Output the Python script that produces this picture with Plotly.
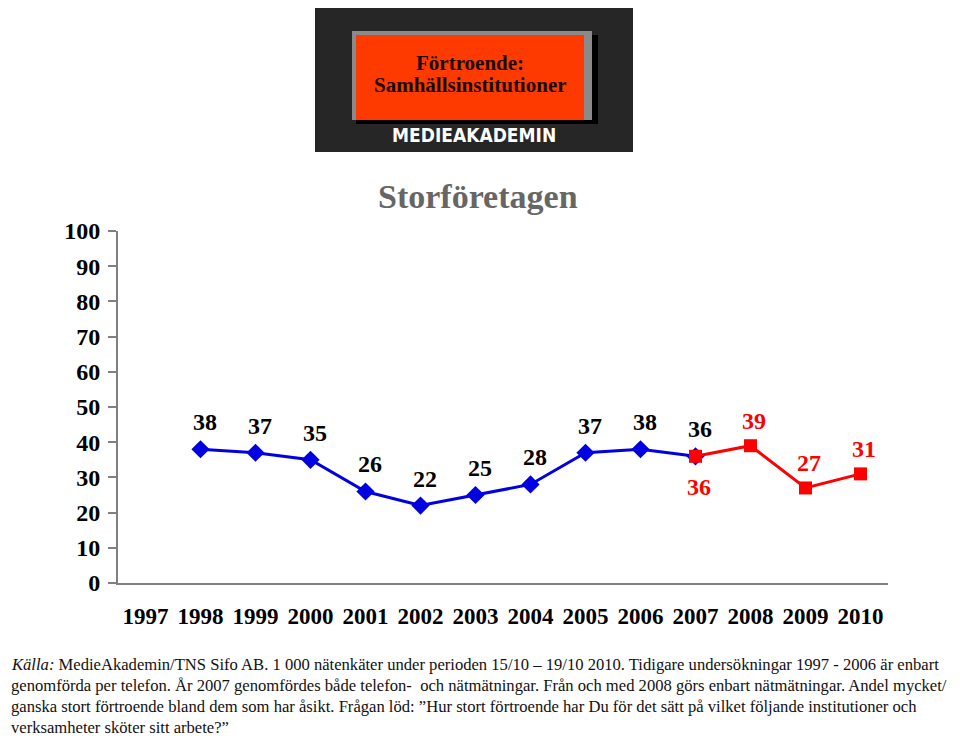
import plotly.graph_objects as go

# ---- data ----
years = [str(y) for y in range(1997, 2011)]
blue_years = ["1998", "1999", "2000", "2001", "2002", "2003", "2004", "2005", "2006", "2007"]
blue_values = [38, 37, 35, 26, 22, 25, 28, 37, 38, 36]
red_years = ["2007", "2008", "2009", "2010"]
red_values = [36, 39, 27, 31]
y_ticks = [0, 10, 20, 30, 40, 50, 60, 70, 80, 90, 100]

title_text = "Storföretagen"
logo_line1 = "Förtroende:"
logo_line2 = "Samhällsinstitutioner"
logo_brand = "MEDIEAKADEMIN"
footer_lines = [
    "<i>Källa:</i> MedieAkademin/TNS Sifo AB. 1 000 nätenkäter under perioden 15/10 – 19/10 2010. Tidigare undersökningar 1997 - 2006 är enbart",
    "genomförda per telefon. År 2007 genomfördes både telefon-  och nätmätningar. Från och med 2008 görs enbart nätmätningar. Andel mycket/",
    "ganska stort förtroende bland dem som har åsikt. Frågan löd: ”Hur stort förtroende har Du för det sätt på vilket följande institutioner och",
    "verksamheter sköter sitt arbete?”",
]

# ---- layout geometry (screen pixels; page body has an 8px margin) ----
OFF = 8
W, H = 960 - OFF, 752 - OFF
SL, SR, ST, SB = 118, 888, 231, 583          # plot area on screen
L, R, T, B = SL - OFF, SR - OFF, ST - OFF, SB - OFF
SERIF = "Liberation Serif, Times New Roman, serif"
BLUE = "#0000e0"
RED = "#ff0000"

def px(x):
    return (x - SL) / (SR - SL)

def py(y):
    return (SB - y) / (SB - ST)

xi = {y: i for i, y in enumerate(years)}

fig = go.Figure()
fig.add_trace(go.Scatter(
    x=[xi[y] for y in blue_years], y=blue_values, mode="lines+markers",
    line=dict(color=BLUE, width=3),
    marker=dict(symbol="diamond", size=14, color=BLUE),
    hoverinfo="skip", showlegend=False,
))
fig.add_trace(go.Scatter(
    x=[xi[y] for y in red_years], y=red_values, mode="lines+markers",
    line=dict(color=RED, width=3),
    marker=dict(symbol="square", size=13, color=RED),
    hoverinfo="skip", showlegend=False,
))

annotations = []
label_font = dict(family=SERIF, size=24, color="black")
for y, v in zip(blue_years, blue_values):
    annotations.append(dict(x=xi[y], y=v, xref="x", yref="y", text=f"<b>{v}</b>",
                            showarrow=False, yshift=27, xshift=4, font=label_font,
                            xanchor="center", yanchor="middle"))
for i, (y, v) in enumerate(zip(red_years, red_values)):
    shift = -31 if i == 0 else 25
    annotations.append(dict(x=xi[y], y=v, xref="x", yref="y", text=f"<b>{v}</b>",
                            showarrow=False, yshift=shift, xshift=3,
                            xanchor="center", yanchor="middle",
                            font=dict(family=SERIF, size=24, color=RED)))

def paper_text(x, y, text, font, xanchor="center"):
    annotations.append(dict(x=px(x), y=py(y), xref="paper", yref="paper", text=text,
                            showarrow=False, xanchor=xanchor, yanchor="middle", font=font))

# title
paper_text(478, 197, f"<b>{title_text}</b>", dict(family=SERIF, size=34, color="#666666"))

# logo texts
paper_text(470, 63, f"<b>{logo_line1}</b>", dict(family=SERIF, size=21, color="#1a0800"))
paper_text(470, 85, f"<b>{logo_line2}</b>", dict(family=SERIF, size=21, color="#1a0800"))
paper_text(474, 135, f"<b>{logo_brand}</b>",
           dict(family="DejaVu Sans Condensed, DejaVu Sans, Arial, sans-serif", size=19, color="white"))

# footer
footer_y = [664, 685, 706, 727]
for line, yy in zip(footer_lines, footer_y):
    paper_text(OFF + 1, yy, line, dict(family=SERIF, size=16.6, color="#111111"), xanchor="left")

def rect(x0, x1, y0, y1, color):
    return dict(type="rect", xref="paper", yref="paper", x0=px(x0), x1=px(x1), y0=py(y1), y1=py(y0),
                fillcolor=color, line=dict(width=0), layer="below")

shapes = [
    rect(315, 633, 0, 152, "#262626"),
    rect(356, 598, 35, 124, "#000000"),   # shadow right/bottom
    rect(352, 592, 31, 120, "#8a8a8a"),   # bevel top/left
    rect(356, 584, 35, 120, "#ff3a00"),
]

fig.update_layout(
    width=W, height=H,
    margin=dict(l=L, r=W - R, t=T, b=H - B, pad=0),
    paper_bgcolor="white", plot_bgcolor="white",
    annotations=annotations, shapes=shapes,
    xaxis=dict(
        range=[-0.5, len(years) - 0.5], tickmode="array",
        tickvals=list(range(len(years))), ticktext=[f"<b>{y}</b>" for y in years],
        showgrid=False, zeroline=False, showline=True, linecolor="#808080", linewidth=2,
        ticks="outside", ticklen=0, ticklabelstandoff=11,
        tickfont=dict(family=SERIF, size=23, color="black"), fixedrange=True,
    ),
    yaxis=dict(
        range=[0, 100], tickmode="array", tickvals=y_ticks,
        ticktext=[f"<b>{v}</b>" for v in y_ticks],
        showgrid=False, zeroline=False, showline=True, linecolor="#808080", linewidth=2,
        ticks="outside", ticklen=8, tickcolor="#808080", tickwidth=2,
        ticklabelstandoff=3,
        tickfont=dict(family=SERIF, size=24, color="black"), fixedrange=True,
    ),
)

fig.write_html("out.html")
